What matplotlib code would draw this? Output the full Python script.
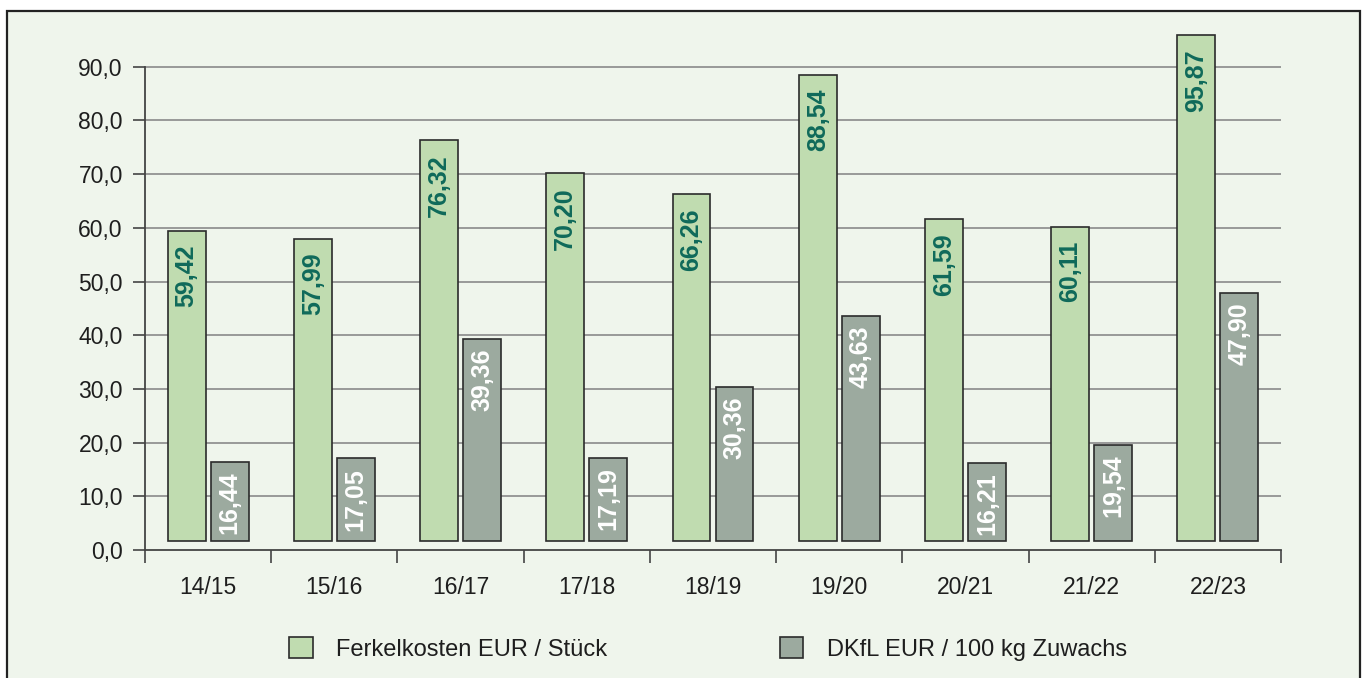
import numpy as np
import matplotlib
matplotlib.use("Agg")
import matplotlib.pyplot as plt
from matplotlib.patches import Rectangle

# data
seasons = ["14/15", "15/16", "16/17", "17/18", "18/19", "19/20", "20/21", "21/22", "22/23"]
ferkelkosten = [59.42, 57.99, 76.32, 70.20, 66.26, 88.54, 61.59, 60.11, 95.87]
dkfl = [16.44, 17.05, 39.36, 17.19, 30.36, 43.63, 16.21, 19.54, 47.90]
series_names = ["Ferkelkosten EUR / Stück", "DKfL EUR / 100 kg Zuwachs"]

green = "#c0dcb0"
grey = "#9caa9f"
label_green = "#0f6a5a"
bg = "#eff5ec"
edge = "#2b2b2b"

plt.rcParams["font.family"] = ["Liberation Sans", "DejaVu Sans"]

fig = plt.figure(figsize=(13.65, 6.78), dpi=100)
fig.patch.set_facecolor("white")

# panel background with border
frame = Rectangle((7 / 1365, -0.02), (1360 - 7) / 1365, 1 - 11 / 678 + 0.02,
                  transform=fig.transFigure, facecolor=bg, edgecolor="#222222",
                  linewidth=1.6, zorder=-5)
fig.add_artist(frame)

ax = fig.add_axes([145 / 1365, 1 - 550 / 678, (1281 - 145) / 1365, 0.792])
ax.set_facecolor("none")

x = np.arange(len(seasons))
w = 0.30
off = 0.17
base = 1.7

b1 = ax.bar(x - off, np.array(ferkelkosten) - base, w, bottom=base, color=green,
            edgecolor=edge, linewidth=1.2, zorder=3, label=series_names[0])
b2 = ax.bar(x + off, np.array(dkfl) - base, w, bottom=base, color=grey,
            edgecolor=edge, linewidth=1.2, zorder=3, label=series_names[1])

def fmt(v):
    return f"{v:.2f}".replace(".", ",")

for xi, v in zip(x, ferkelkosten):
    ax.annotate(fmt(v), (xi - off, v), xytext=(0, -10), textcoords="offset points",
                rotation=90, ha="center", va="top", fontsize=18, fontweight="bold",
                color=label_green, zorder=4)
for xi, v in zip(x, dkfl):
    ax.annotate(fmt(v), (xi + off, v), xytext=(0, -7), textcoords="offset points",
                rotation=90, ha="center", va="top", fontsize=18, fontweight="bold",
                color="white", zorder=4)

ax.set_xlim(-0.5, len(seasons) - 0.5)
ax.set_ylim(0, 100)

yt = np.arange(0, 91, 10)
ax.set_yticks(yt)
ax.set_yticklabels([f"{v:.1f}".replace(".", ",") for v in yt])
ax.tick_params(axis="y", length=9, width=1.2, color="#444444", direction="out",
               pad=7, labelsize=16.5, labelcolor="#1e1e1e")

# boundary ticks and centred labels
ax.set_xticks(np.arange(-0.5, len(seasons), 1.0))
ax.set_xticklabels([])
ax.set_xticks(x, minor=True)
ax.set_xticklabels(seasons, minor=True)
ax.tick_params(axis="x", which="major", length=9, width=1.2, color="#444444", direction="out")
ax.tick_params(axis="x", which="minor", length=0, pad=19, labelsize=16.5, labelcolor="#1e1e1e")

for v in yt[1:]:
    ax.axhline(v, color="#8a8a8a", linewidth=1.2, zorder=1)

for s in ["top", "right"]:
    ax.spines[s].set_visible(False)
ax.spines["left"].set_bounds(0, 90)
ax.spines["left"].set_color("#444444")
ax.spines["left"].set_linewidth(1.3)
ax.spines["bottom"].set_color("#444444")
ax.spines["bottom"].set_linewidth(1.3)

leg = fig.legend(handles=[b1, b2], labels=series_names, loc="center left",
                 bbox_to_anchor=(289 / 1365, 1 - 649 / 678), ncol=2, frameon=False,
                 fontsize=17, handlelength=1.0, handleheight=0.95, handletextpad=1.0,
                 columnspacing=7.3, borderpad=0, borderaxespad=0)
for t in leg.get_texts():
    t.set_color("#1e1e1e")

fig.savefig("out.png", dpi=100, facecolor=fig.get_facecolor())
